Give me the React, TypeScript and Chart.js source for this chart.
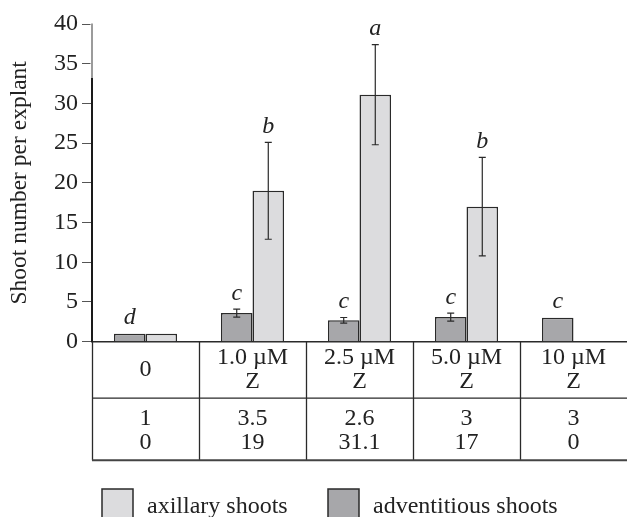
import React, { useEffect, useRef } from "react";
import { Chart, registerables } from "chart.js";

Chart.register(...registerables);

// ---- data ----
const categoryLabels: string[][] = [["0"], ["1.0 µM", "Z"], ["2.5 µM", "Z"], ["5.0 µM", "Z"], ["10 µM", "Z"]];
const adventitiousShoots = [1, 3.6, 2.7, 3.1, 3.0];
const axillaryShoots = [1, 19, 31.1, 17, 0];
const adventitiousError = [0, 0.5, 0.35, 0.5, 0];
const axillaryError = [0, 6.1, 6.3, 6.2, 0];
const adventitiousLetters = ["d", "c", "c", "c", "c"];
const axillaryLetters = ["", "b", "a", "b", ""];
const tableAdventitious = ["1", "3.5", "2.6", "3", "3"];
const tableAxillary = ["0", "19", "31.1", "17", "0"];
const legendLabels = ["axillary shoots", "adventitious shoots"];
const yTitle = "Shoot number per explant";

const FONT = '"Liberation Serif", "Times New Roman", serif';
const ADV_COLOR = "#a7a7aa";
const AXI_COLOR = "#dcdcde";
const LINE = "#2a2a2a";

const errors = [adventitiousError, axillaryError];
const letters = [adventitiousLetters, axillaryLetters];

const overlayPlugin = {
  id: "overlay",
  afterDraw(chart: any) {
    const ctx = chart.ctx;
    const area = chart.chartArea;
    const xs = chart.scales.x;
    const ys = chart.scales.y;
    ctx.save();

    // faded upper part of the y axis line (as in the scanned original)
    ctx.strokeStyle = "#fff";
    ctx.lineWidth = 3;
    ctx.beginPath();
    ctx.moveTo(area.left, area.top - 1);
    ctx.lineTo(area.left, area.top + 54);
    ctx.stroke();
    ctx.strokeStyle = "#7a7a7a";
    ctx.lineWidth = 1.5;
    ctx.beginPath();
    ctx.moveTo(area.left, area.top - 0.5);
    ctx.lineTo(area.left, area.top + 54);
    ctx.stroke();

    // error bars and significance letters
    for (let d = 0; d < 2; d++) {
      const meta = chart.getDatasetMeta(d);
      const vals = chart.data.datasets[d].data as number[];
      meta.data.forEach((el: any, i: number) => {
        const v = vals[i];
        const e = errors[d][i];
        let top = el.y;
        if (e > 0) {
          const yT = ys.getPixelForValue(v + e);
          const yB = ys.getPixelForValue(v - e);
          ctx.strokeStyle = LINE;
          ctx.lineWidth = 1.2;
          ctx.beginPath();
          ctx.moveTo(el.x, yT);
          ctx.lineTo(el.x, yB);
          ctx.moveTo(el.x - 3.5, yT);
          ctx.lineTo(el.x + 3.5, yT);
          ctx.moveTo(el.x - 3.5, yB);
          ctx.lineTo(el.x + 3.5, yB);
          ctx.stroke();
          top = yT;
        }
        const L = letters[d][i];
        if (L) {
          ctx.fillStyle = "#222";
          ctx.font = `italic 24px ${FONT}`;
          ctx.textAlign = "center";
          ctx.textBaseline = "alphabetic";
          ctx.fillText(L, el.x, top - 9.5);
        }
      });
    }

    // table below the axis
    const n = chart.data.labels.length;
    const colW = (xs.right - xs.left) / n;
    const y0 = area.bottom;
    const y1 = y0 + 56.5;
    const y2 = y0 + 118.5;
    ctx.strokeStyle = LINE;
    ctx.lineWidth = 1.3;
    ctx.beginPath();
    for (let i = 0; i < n; i++) {
      const x = Math.round(xs.left + i * colW) + 0.5;
      ctx.moveTo(x, y0);
      ctx.lineTo(x, y2);
    }
    ctx.moveTo(xs.left, y1);
    ctx.lineTo(xs.right, y1);
    ctx.stroke();
    ctx.strokeStyle = "#444";
    ctx.lineWidth = 2;
    ctx.beginPath();
    ctx.moveTo(xs.left, y2);
    ctx.lineTo(xs.right, y2);
    ctx.stroke();

    ctx.fillStyle = "#222";
    ctx.font = `24px ${FONT}`;
    ctx.textAlign = "center";
    ctx.textBaseline = "middle";
    chart.data.labels.forEach((lab: string[], i: number) => {
      const cx = xs.left + (i + 0.5) * colW;
      if (lab.length === 1) {
        ctx.fillText(lab[0], cx, y0 + 28.5);
      } else {
        ctx.fillText(lab[0], cx, y0 + 16.5);
        ctx.fillText(lab[1], cx, y0 + 40.5);
      }
      ctx.fillText(tableAdventitious[i], cx, y0 + 77);
      ctx.fillText(tableAxillary[i], cx, y0 + 101);
    });

    // legend
    const legendItems = [
      { text: legendLabels[0], color: AXI_COLOR, x: 102 },
      { text: legendLabels[1], color: ADV_COLOR, x: 328 },
    ];
    ctx.textAlign = "left";
    ctx.textBaseline = "alphabetic";
    legendItems.forEach((it) => {
      ctx.fillStyle = it.color;
      ctx.fillRect(it.x, 489, 31, 34);
      ctx.strokeStyle = LINE;
      ctx.lineWidth = 1.5;
      ctx.strokeRect(it.x, 489, 31, 34);
      ctx.fillStyle = "#222";
      ctx.font = `24px ${FONT}`;
      ctx.fillText(it.text, it.x + 45, 513);
    });

    ctx.restore();
  },
};

export default function App() {
  const ref = useRef<HTMLCanvasElement | null>(null);
  useEffect(() => {
    if (!ref.current) return;
    const chart = new Chart(ref.current, {
      type: "bar",
      data: {
        labels: categoryLabels as any,
        datasets: [
          {
            label: legendLabels[1],
            data: adventitiousShoots,
            backgroundColor: ADV_COLOR,
            borderColor: LINE,
            borderWidth: 1.5,
            categoryPercentage: 0.59,
            barPercentage: 1.0,
          },
          {
            label: legendLabels[0],
            data: axillaryShoots,
            backgroundColor: AXI_COLOR,
            borderColor: LINE,
            borderWidth: 1.5,
            categoryPercentage: 0.59,
            barPercentage: 1.0,
          },
        ],
      },
      options: {
        responsive: false,
        animation: false,
        devicePixelRatio: 1,
        layout: { padding: { top: 24, left: 0, right: 0, bottom: 0 } },
        plugins: { legend: { display: false }, tooltip: { enabled: false } },
        scales: {
          x: {
            grid: { display: false },
            ticks: { display: false },
            border: { display: true, color: LINE, width: 1.5 },
            afterFit: (s: any) => {
              s.height = 175.3;
            },
          },
          y: {
            min: 0,
            max: 40,
            ticks: {
              stepSize: 5,
              color: "#222",
              font: { family: FONT, size: 24 },
              padding: 4,
            },
            grid: { drawOnChartArea: false, drawTicks: true, tickLength: 10, tickColor: "#555", tickWidth: 1 },
            border: { display: true, color: "#1a1a1a", width: 2 },
            title: {
              display: true,
              text: yTitle,
              color: "#222",
              font: { family: FONT, size: 23.5 },
              padding: { top: 6, bottom: 0 },
            },
            afterFit: (s: any) => {
              s.width = 92;
            },
          },
        },
      },
      plugins: [overlayPlugin],
    });
    return () => chart.destroy();
  }, []);
  return (
    <div style={{ position: "absolute", left: 0, top: 0, width: 627, height: 517, background: "#fff" }}>
      <canvas ref={ref} width={627} height={517} />
    </div>
  );
}
